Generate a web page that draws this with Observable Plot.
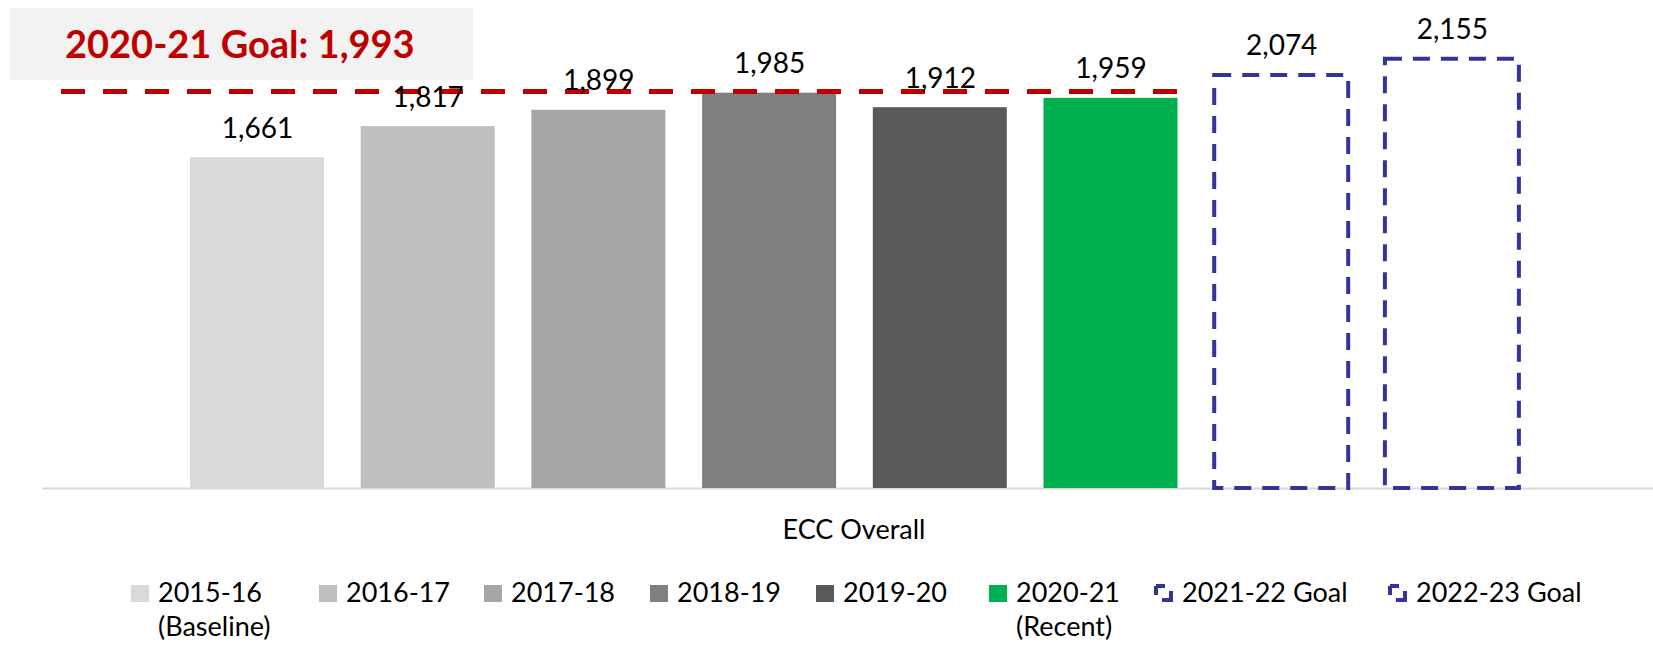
<!DOCTYPE html>
<html>
<head>
<meta charset="utf-8">
<script src="https://cdn.jsdelivr.net/npm/d3@7"></script>
<script src="https://cdn.jsdelivr.net/npm/@observablehq/plot@0.6"></script>
<style>
  html, body { margin: 0; padding: 0; background: #fff; }
  #wrap { position: relative; width: 1653px; height: 649px; overflow: hidden; font-family: Lato, "Open Sans", sans-serif; }
  #chart { position: absolute; left: 0; top: 0; }
  .titlebox { position: absolute; left: 10px; top: 8px; width: 463px; height: 72px; background: #F2F2F2; }
  .title { position: absolute; left: 65px; top: 24px; font-weight: 700; font-size: 38px; line-height: 38px; color: #C00000; white-space: nowrap; }
  .cat { position: absolute; top: 512px; font-size: 27px; line-height: 34px; color: #000; transform: translateX(-50%); white-space: nowrap; }
  .leg { position: absolute; top: 575px; font-size: 27px; line-height: 34px; color: #000; white-space: nowrap; }
  .leg .sw { position: absolute; left: 0; top: 10px; width: 18px; height: 17px; }
  .leg .tx { position: absolute; left: 27px; top: 0; }
</style>
</head>
<body>
<div id="wrap">
  <div id="chart"></div>
</div>
<script>
// ---- data ----
const years = ["2015-16", "2016-17", "2017-18", "2018-19", "2019-20", "2020-21", "2021-22 Goal", "2022-23 Goal"];
const values = [1661, 1817, 1899, 1985, 1912, 1959, 2074, 2155];
const isGoal = [false, false, false, false, false, false, true, true];
const legendLabels = ["2015-16\n(Baseline)", "2016-17", "2017-18", "2018-19", "2019-20", "2020-21\n(Recent)", "2021-22 Goal", "2022-23 Goal"];
const category = "ECC Overall";
const goalValue = 1993;
const goalTitle = "2020-21 Goal: 1,993";

// ---- styles / layout ----
const fills = ["#D9D9D9", "#BFBFBF", "#A6A6A6", "#7F7F7F", "#595959", "#00B050", "none", "none"];
const goalStroke = "#333399";
const legendLeft = [131, 319, 484, 650, 816, 989, 1155, 1389];

const rows = years.map((y, i) => ({year: y, value: values[i], goal: isGoal[i]}));
const actual = rows.filter(d => !d.goal);
const goals = rows.filter(d => d.goal);
const fmt = d3.format(",");

const plot = Plot.plot({
  width: 1653,
  height: 500,
  marginTop: 10,
  marginBottom: 12,
  marginLeft: 42,
  marginRight: 0,
  style: {fontFamily: "Lato, 'Open Sans', sans-serif", background: "transparent"},
  x: {type: "band", domain: years, range: [153.3, 1555.6], padding: 0.215, round: false, axis: null},
  y: {domain: [0, 2400], axis: null},
  color: {domain: years, range: fills},
  marks: [
    Plot.ruleY([0], {stroke: "#D9D9D9", strokeWidth: 2}),
    Plot.barY(actual, {x: "year", y: "value", fill: "year"}),
    Plot.barY(goals, {x: "year", y: "value", fill: "none", stroke: goalStroke, strokeWidth: 4, strokeDasharray: "17,11"}),
    Plot.ruleY([goalValue], {stroke: "#C00000", strokeWidth: 5, strokeDasharray: "24,18", insetLeft: 19, insetRight: 474}),
    Plot.text(rows, {x: "year", y: "value", text: d => fmt(d.value), dy: -20, lineAnchor: "bottom", fontSize: 28, fill: "#000"})
  ]
});
document.getElementById("chart").appendChild(plot);

const wrap = document.getElementById("wrap");
// title box
const tb = document.createElement("div");
tb.className = "titlebox";
wrap.appendChild(tb);
const tt = document.createElement("div");
tt.className = "title";
tt.textContent = goalTitle;
wrap.appendChild(tt);
// category label
const cat = document.createElement("div");
cat.className = "cat";
cat.style.left = "854px";
cat.textContent = category;
wrap.appendChild(cat);
// legend
years.forEach((y, i) => {
  const item = document.createElement("div");
  item.className = "leg";
  item.style.left = legendLeft[i] + "px";
  let sw;
  if (isGoal[i]) {
    sw = `<svg class="sw" width="22" height="20" viewBox="0 0 22 20" style="top:8px;left:-2px;width:22px;height:20px"><rect x="3" y="3" width="15" height="14" fill="none" stroke="${goalStroke}" stroke-width="4" stroke-dasharray="9,11,18,11,9,0"/></svg>`;
  } else {
    sw = `<div class="sw" style="background:${fills[i]}"></div>`;
  }
  item.innerHTML = sw + `<div class="tx">${legendLabels[i].replace("\n", "<br>")}</div>`;
  wrap.appendChild(item);
});
</script>
</body>
</html>
